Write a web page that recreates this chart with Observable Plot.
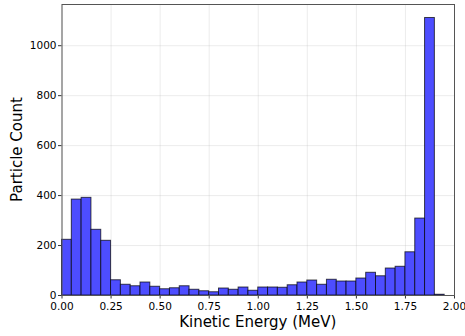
<!DOCTYPE html>
<html>
<head>
<meta charset="utf-8">
<script src="https://cdn.jsdelivr.net/npm/d3@7"></script>
<script src="https://cdn.jsdelivr.net/npm/@observablehq/plot@0.6"></script>
<style>
html,body{margin:0;padding:0;background:#fff;}
svg{display:block;}
</style>
</head>
<body>
<div id="chart"></div>
<script>
// bin lower edges (MeV), bin width 0.05
const binWidth = 0.05;
const counts = [223, 384, 391, 263, 219, 61, 43, 37, 52, 35,
                25, 29, 37, 23, 17, 13, 28, 23, 32, 19,
                32, 32, 31, 41, 52, 60, 43, 63, 56, 56,
                68, 91, 77, 108, 115, 173, 308, 1111, 3, 0];
const binStart = counts.map((_, i) => +(i * binWidth).toFixed(2));
const xTicks = [0, 0.25, 0.5, 0.75, 1.0, 1.25, 1.5, 1.75, 2.0];
const yTicks = [0, 200, 400, 600, 800, 1000];

const data = binStart.map((x0, i) => ({x1: x0, x2: +(x0 + binWidth).toFixed(2), y: counts[i]}));

const W = 465, H = 336;
const chart = Plot.plot({
  width: W, height: H,
  marginLeft: 61.5, marginRight: 11, marginTop: 4, marginBottom: 41,
  style: {fontFamily: "DejaVu Sans", fontSize: "10px", color: "#000", background: "#fff"},
  x: {domain: [0, 2.0], ticks: xTicks, tickFormat: d3.format(".2f"), label: null},
  y: {domain: [0, 1165], ticks: yTicks, tickFormat: d => String(d), label: null},
  marks: [
    Plot.gridX(xTicks, {stroke: "#b0b0b0", strokeOpacity: 0.3, strokeWidth: 0.8}),
    Plot.gridY(yTicks, {stroke: "#b0b0b0", strokeOpacity: 0.3, strokeWidth: 0.8}),
    Plot.rectY(data, {x1: "x1", x2: "x2", y: "y", fill: "#4d4dff", stroke: "#000", strokeOpacity: 0.7, strokeWidth: 1}),
    Plot.axisX(xTicks, {tickFormat: d3.format(".2f"), tickSize: 3.5, tickPadding: 3.5, fontSize: 10.5, label: null, stroke: "#333"}),
    Plot.axisY(yTicks, {tickFormat: d => String(d), tickSize: 3.5, tickPadding: 2, fontSize: 10.5, label: null, stroke: "#333"}),
    Plot.frame({stroke: "#555", strokeWidth: 1})
  ]
});
const svg = d3.select(chart);
svg.append("text")
  .attr("x", (61.5 + 454) / 2).attr("y", 327)
  .attr("text-anchor", "middle")
  .attr("font-family", "DejaVu Sans").attr("font-size", 15).attr("fill", "#000")
  .text("Kinetic Energy (MeV)");
svg.append("text")
  .attr("transform", `translate(22,${(4 + 295) / 2}) rotate(-90)`)
  .attr("text-anchor", "middle")
  .attr("font-family", "DejaVu Sans").attr("font-size", 15).attr("fill", "#000")
  .text("Particle Count");
document.getElementById("chart").appendChild(chart);
</script>
</body>
</html>
